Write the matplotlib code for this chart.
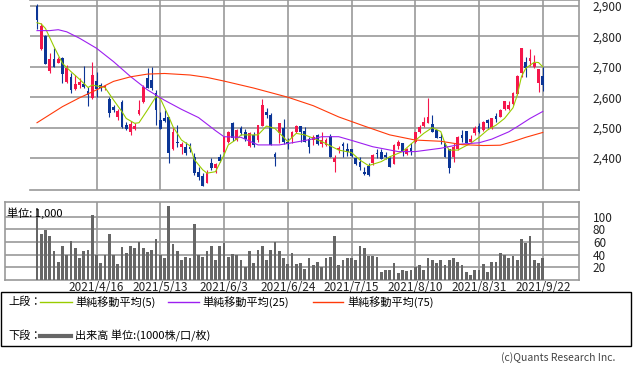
import matplotlib
matplotlib.use('Agg')
import matplotlib.pyplot as plt
from matplotlib.lines import Line2D
from matplotlib.patches import Rectangle
from matplotlib.ticker import FuncFormatter

plt.rcParams['font.family'] = ['Noto Sans CJK JP', 'DejaVu Sans']

# daily prices, 2021/3/29 .. 2021/9/22 (trading days)
opens = [2900, 2760, 2801, 2687, 2726, 2714, 2728, 2651, 2668, 2626,
         2640, 2643, 2621, 2598, 2653, 2640, 2631, 2594, 2568, 2534,
         2583, 2509, 2486, 2496, 2545, 2585, 2662, 2657, 2613, 2525,
         2530, 2534, 2428, 2454, 2436, 2437, 2435, 2404, 2355, 2341,
         2319, 2382, 2366, 2402, 2421, 2454, 2514, 2459, 2500, 2485,
         2439, 2476, 2459, 2505, 2550, 2541, 2412, 2483, 2499, 2454,
         2465, 2487, 2506, 2489, 2461, 2459, 2474, 2446, 2443, 2472,
         2386, 2426, 2446, 2430, 2430, 2399, 2386, 2355, 2375, 2385,
         2417, 2419, 2411, 2399, 2380, 2441, 2448, 2412, 2432, 2454,
         2485, 2506, 2516, 2511, 2492, 2470, 2448, 2428, 2402, 2428,
         2476, 2489, 2454, 2481, 2505, 2492, 2525, 2498, 2538, 2536,
         2561, 2561, 2578, 2609, 2679, 2717, 2720, 2700, 2648, 2670]
highs = [2905, 2843, 2805, 2744, 2761, 2733, 2731, 2706, 2679, 2673,
         2662, 2703, 2632, 2717, 2684, 2648, 2640, 2602, 2575, 2560,
         2590, 2520, 2523, 2515, 2591, 2640, 2696, 2698, 2624, 2552,
         2558, 2536, 2503, 2509, 2454, 2454, 2448, 2415, 2370, 2350,
         2360, 2399, 2382, 2412, 2472, 2490, 2519, 2495, 2505, 2495,
         2485, 2487, 2508, 2594, 2566, 2547, 2421, 2516, 2528, 2465,
         2490, 2509, 2506, 2503, 2470, 2476, 2478, 2487, 2465, 2478,
         2410, 2441, 2454, 2448, 2430, 2404, 2404, 2371, 2382, 2413,
         2428, 2428, 2420, 2404, 2446, 2459, 2448, 2432, 2448, 2485,
         2508, 2536, 2598, 2541, 2492, 2481, 2448, 2428, 2448, 2472,
         2492, 2489, 2476, 2505, 2514, 2523, 2527, 2533, 2547, 2561,
         2588, 2588, 2618, 2673, 2763, 2733, 2759, 2739, 2692, 2700]
lows = [2823, 2755, 2710, 2679, 2700, 2711, 2648, 2648, 2615, 2624,
        2629, 2630, 2571, 2595, 2602, 2622, 2625, 2536, 2550, 2525,
        2498, 2492, 2476, 2492, 2542, 2582, 2629, 2625, 2509, 2494,
        2520, 2382, 2425, 2437, 2413, 2410, 2420, 2344, 2328, 2308,
        2317, 2360, 2350, 2388, 2415, 2448, 2455, 2455, 2475, 2455,
        2435, 2437, 2454, 2505, 2531, 2443, 2375, 2450, 2446, 2429,
        2448, 2481, 2454, 2454, 2417, 2443, 2444, 2437, 2440, 2402,
        2353, 2415, 2404, 2406, 2404, 2377, 2360, 2345, 2342, 2377,
        2399, 2396, 2398, 2371, 2380, 2430, 2408, 2410, 2410, 2448,
        2481, 2503, 2516, 2487, 2465, 2446, 2404, 2352, 2388, 2426,
        2454, 2448, 2448, 2476, 2481, 2490, 2498, 2496, 2520, 2534,
        2558, 2558, 2574, 2607, 2668, 2668, 2703, 2695, 2618, 2622]
closes = [2854, 2834, 2710, 2726, 2700, 2725, 2676, 2695, 2624, 2643,
          2651, 2635, 2607, 2673, 2626, 2629, 2637, 2549, 2558, 2553,
          2503, 2494, 2512, 2505, 2558, 2633, 2630, 2629, 2558, 2494,
          2523, 2415, 2487, 2448, 2446, 2415, 2428, 2350, 2339, 2308,
          2352, 2366, 2379, 2391, 2468, 2487, 2465, 2492, 2481, 2461,
          2481, 2443, 2508, 2574, 2543, 2443, 2404, 2516, 2454, 2446,
          2487, 2506, 2487, 2454, 2437, 2470, 2446, 2459, 2459, 2402,
          2399, 2434, 2441, 2421, 2406, 2380, 2371, 2347, 2344, 2410,
          2413, 2396, 2404, 2371, 2443, 2452, 2424, 2428, 2424, 2485,
          2503, 2519, 2534, 2487, 2465, 2465, 2404, 2366, 2437, 2470,
          2465, 2450, 2461, 2500, 2487, 2519, 2514, 2530, 2527, 2558,
          2587, 2574, 2615, 2670, 2763, 2695, 2728, 2714, 2692, 2640]
volume = [114, 72, 79, 69, 45, 29, 54, 39, 62, 50,
          34, 45, 48, 103, 39, 27, 39, 72, 40, 26,
          52, 43, 54, 50, 60, 50, 44, 48, 64, 40,
          34, 116, 56, 45, 32, 36, 34, 89, 40, 36,
          45, 54, 32, 54, 58, 37, 41, 39, 32, 21,
          46, 27, 48, 53, 32, 48, 60, 46, 34, 25,
          42, 26, 27, 18, 35, 24, 29, 20, 35, 37,
          69, 23, 31, 34, 34, 31, 54, 50, 38, 38,
          37, 13, 15, 15, 27, 11, 16, 14, 16, 21,
          23, 16, 34, 31, 27, 31, 24, 32, 34, 29,
          23, 13, 8, 16, 15, 26, 13, 29, 29, 43,
          40, 35, 38, 32, 64, 58, 70, 31, 27, 35]

# moving averages (day index, value)
ma5_day = [0, 1, 2, 4, 6, 8, 10, 12, 13, 14, 16, 18, 20, 21, 23, 24, 26, 28, 29,
           31, 32, 34, 36, 37, 39, 40, 42, 44, 45, 47, 48, 52, 54, 56, 59, 61, 63,
           67, 69, 71, 74, 76, 78, 81, 83, 86, 88, 91, 93, 95, 96, 97, 99, 102,
           104, 106, 108, 110, 112, 113, 114, 115, 117, 118, 119]
ma5_val = [2845, 2841, 2826, 2766, 2711, 2684, 2659, 2632, 2640, 2637, 2632,
           2591, 2552, 2530, 2514, 2516, 2558, 2602, 2596, 2536, 2503, 2459,
           2440, 2395, 2361, 2350, 2355, 2410, 2443, 2462, 2476, 2476, 2505,
           2497, 2454, 2481, 2476, 2454, 2440, 2426, 2418, 2393, 2375, 2388,
           2404, 2421, 2446, 2481, 2500, 2487, 2448, 2426, 2426, 2448, 2468,
           2492, 2508, 2530, 2565, 2607, 2668, 2695, 2715, 2714, 2700]
ma25_day = [0, 3, 5, 7, 10, 14, 18, 22, 26, 30, 34, 38, 42, 44, 48, 52, 57, 60,
            64, 67, 71, 74, 79, 85, 89, 95, 100, 104, 107, 109, 111, 113, 116, 119]
ma25_val = [2819, 2819, 2822, 2815, 2794, 2761, 2717, 2668, 2624, 2590, 2560,
            2533, 2490, 2470, 2468, 2443, 2443, 2450, 2460, 2470, 2470, 2458,
            2437, 2421, 2421, 2432, 2446, 2450, 2462, 2474, 2486, 2503, 2530, 2553]
ma75_day = [0, 6, 10, 14, 18, 22, 26, 30, 36, 40, 44, 51, 59, 65, 71, 77, 83,
            89, 95, 100, 105, 109, 112, 115, 119]
ma75_val = [2516, 2569, 2598, 2624, 2652, 2667, 2676, 2678, 2673, 2665, 2653,
            2630, 2600, 2572, 2535, 2505, 2476, 2459, 2455, 2444, 2441, 2442,
            2454, 2468, 2484]

tick_days = [14, 29, 44, 59, 74, 89, 104, 119]
tick_labels = ['2021/4/16', '2021/5/13', '2021/6/3', '2021/6/24',
               '2021/7/15', '2021/8/10', '2021/8/31', '2021/9/22']

W, H = 633, 374
UP, DOWN = '#f5164b', '#0b3596'
GRID = '#999999'


def rect(x0, y0, x1, y1):
    return [x0 / W, 1 - y1 / H, (x1 - x0) / W, (y1 - y0) / H]


def day_lim(x0, x1):
    # pixel position of day i is 37 + 4.25 * i
    return ((x0 - 37) / 4.25, (x1 - 37) / 4.25)


fig = plt.figure(figsize=(W / 100, H / 100), dpi=100)

# ---- price panel
ax = fig.add_axes(rect(30, 0, 579, 190))
days = list(range(len(closes)))
for i in days:
    col = UP if closes[i] >= opens[i] else DOWN
    ax.vlines(i, lows[i], highs[i], color=col, lw=0.8, zorder=3)
    lo, hi = min(opens[i], closes[i]), max(opens[i], closes[i])
    ax.bar(i, max(hi - lo, 2), bottom=lo, width=0.7, color=col, lw=0, zorder=4)
ax.plot(ma5_day, ma5_val, color='#99cc00', lw=0.8, zorder=5)
ax.plot(ma25_day, ma25_val, color='#9d1ff0', lw=0.8, zorder=5)
ax.plot(ma75_day, ma75_val, color='#ff3a0a', lw=0.8, zorder=5)
ax.set_xlim(*day_lim(30, 579))
ax.set_ylim(2294.7, 2919.7)
ax.set_yticks([2400, 2500, 2600, 2700, 2800, 2900])
ax.yaxis.set_major_formatter(FuncFormatter(lambda v, p: '{:,.0f}'.format(v)))
ax.yaxis.tick_right()
ax.set_xticks(tick_days)
ax.set_xticklabels([])
ax.tick_params(length=0, labelsize=8.5, pad=10, colors='#222222')
ax.grid(True, color=GRID, lw=1.2)
ax.set_axisbelow(True)
ax.spines['left'].set_visible(False)
for s in ['top', 'right', 'bottom']:
    ax.spines[s].set_color(GRID)
    ax.spines[s].set_linewidth(1.2)

# ---- volume panel
av = fig.add_axes(rect(5, 202, 579, 280))
av.bar(days, volume, width=0.7, color='#666666', lw=0, zorder=3)
av.set_xlim(*day_lim(5, 579))
av.set_ylim(0, 123)
av.set_yticks([20, 40, 60, 80, 100])
av.yaxis.tick_right()
av.set_xticks(tick_days)
av.set_xticklabels(tick_labels)
av.tick_params(length=0, labelsize=8.5, colors='#222222')
av.tick_params(axis='y', pad=10)
av.tick_params(axis='x', pad=1)
av.grid(True, color=GRID, lw=1.2)
av.set_axisbelow(True)
for s in av.spines.values():
    s.set_color(GRID)
    s.set_linewidth(1.2)
av.text(0.004, 0.93, '単位: 1,000', transform=av.transAxes,
        fontsize=8, va='top', ha='left', zorder=6)

# ---- legend box
fig.patches.append(Rectangle((1 / W, 1 - 346 / H), 630 / W, 54 / H,
                             transform=fig.transFigure, fill=False,
                             edgecolor='black', lw=1))
y1 = 1 - 302 / H
y2 = 1 - 336 / H
fig.text(8 / W, y1, '上段：', fontsize=8, va='center')
items = [(40, 72, 75, '#99cc00', '単純移動平均(5)'),
         (168, 199, 202, '#9d1ff0', '単純移動平均(25)'),
         (313, 343, 347, '#ff3a0a', '単純移動平均(75)')]
for xa, xb, xt, col, lab in items:
    fig.lines.append(Line2D([xa / W, xb / W], [y1, y1], color=col, lw=1,
                            transform=fig.transFigure))
    fig.text(xt / W, y1, lab, fontsize=8, va='center')
fig.text(8 / W, y2, '下段：', fontsize=8, va='center')
fig.lines.append(Line2D([40 / W, 71 / W], [y2, y2], color='#666666', lw=3,
                        transform=fig.transFigure))
fig.text(75 / W, y2, '出来高 単位:(1000株/口/枚)', fontsize=8, va='center')

fig.text(615 / W, 1 - 358 / H, '(c)Quants Research Inc.', fontsize=7.5,
         ha='right', va='center', color='#444444')

fig.savefig('out.png', dpi=100)
